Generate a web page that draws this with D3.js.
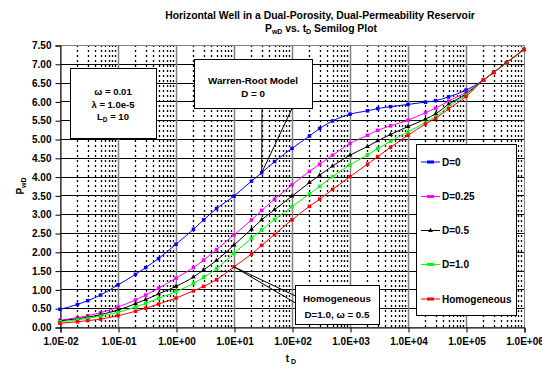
<!DOCTYPE html>
<html>
<head>
<meta charset="utf-8">
<script src="https://cdn.jsdelivr.net/npm/d3@7"></script>
<style>
  body { margin: 0; background: #fff; }
  svg { font-family: "Liberation Sans", Arial, sans-serif; font-weight: bold; }
</style>
</head>
<body>
<div id="chart"></div>
<script>
var svgWidth = 542;
var svgHeight = 369;

var plot = { left: 60, right: 524, top: 45, bottom: 327 };

// dimensionless time points
var tValues = [0.01, 0.02, 0.03, 0.05, 0.1, 0.2, 0.3, 0.5, 1, 2, 3, 5,
    10, 20, 30, 50, 100, 200, 300, 500, 1e3, 2e3, 3e3, 5e3,
    1e4, 2e4, 3e4, 5e4, 1e5, 2e5, 3e5, 5e5, 1e6];

var pD0 = [0.47, 0.60, 0.70, 0.85, 1.12, 1.40, 1.58, 1.82, 2.20, 2.60, 2.85, 3.15,
    3.48, 3.88, 4.10, 4.40, 4.75, 5.08, 5.28, 5.48, 5.66, 5.75, 5.81, 5.86,
    5.92, 5.98, 6.02, 6.12, 6.30, 6.57, 6.77, 7.03, 7.38];
var pD025 = [0.18, 0.25, 0.30, 0.38, 0.53, 0.72, 0.85, 1.03, 1.30, 1.58, 1.78, 2.06,
    2.45, 2.85, 3.10, 3.40, 3.78, 4.14, 4.33, 4.57, 4.88, 5.10, 5.23, 5.35,
    5.50, 5.70, 5.82, 6.01, 6.24, 6.57, 6.77, 7.03, 7.38];
var pD05 = [0.16, 0.22, 0.26, 0.33, 0.45, 0.62, 0.73, 0.88, 1.08, 1.33, 1.52, 1.77,
    2.18, 2.60, 2.85, 3.12, 3.48, 3.84, 4.04, 4.28, 4.57, 4.80, 4.95, 5.12,
    5.33, 5.53, 5.67, 5.92, 6.20, 6.57, 6.77, 7.03, 7.38];
var pD10 = [0.14, 0.19, 0.23, 0.29, 0.39, 0.53, 0.63, 0.76, 0.94, 1.16, 1.32, 1.55,
    1.96, 2.36, 2.58, 2.86, 3.20, 3.54, 3.74, 4.00, 4.31, 4.58, 4.74, 4.94,
    5.19, 5.44, 5.59, 5.86, 6.17, 6.57, 6.77, 7.03, 7.38];
var pHomog = [0.10, 0.14, 0.17, 0.21, 0.30, 0.42, 0.50, 0.61, 0.77, 0.96, 1.08, 1.26,
    1.60, 1.94, 2.17, 2.46, 2.85, 3.21, 3.40, 3.66, 4.00, 4.33, 4.53, 4.78,
    5.10, 5.40, 5.55, 5.80, 6.13, 6.57, 6.77, 7.03, 7.38];

var seriesNames = ["D=0", "D=0.25", "D=0.5", "D=1.0", "Homogeneous"];
var seriesColors = ["#0000ff", "#ff00ff", "#000000", "#00ff00", "#ff0000"];
var seriesValues = [pD0, pD025, pD05, pD10, pHomog];

var xTicks = [1e-2, 1e-1, 1, 10, 100, 1e3, 1e4, 1e5, 1e6];
var yTicks = [0, 0.5, 1, 1.5, 2, 2.5, 3, 3.5, 4, 4.5, 5, 5.5, 6, 6.5, 7, 7.5];

var svg = d3.select("#chart")
    .append("svg")
    .attr("width", svgWidth)
    .attr("height", svgHeight);

var xScale = d3.scaleLog().domain([1e-2, 1e6]).range([plot.left, plot.right]);
var yScale = d3.scaleLinear().domain([0, 7.5]).range([plot.bottom, plot.top]);

// title
svg.append("text")
    .attr("x", 320).attr("y", 19)
    .attr("text-anchor", "middle")
    .attr("font-size", "10.4px")
    .text("Horizontal Well in a Dual-Porosity, Dual-Permeability Reservoir");

var title2 = svg.append("text")
    .attr("x", 321).attr("y", 32)
    .attr("text-anchor", "middle")
    .attr("font-size", "10.4px");
title2.append("tspan").text("P");
title2.append("tspan").attr("font-size", "7px").attr("dy", 2).text("wD");
title2.append("tspan").attr("dy", -2).text(" vs. t");
title2.append("tspan").attr("font-size", "7px").attr("dy", 2).text("D");
title2.append("tspan").attr("dy", -2).text(" Semilog Plot");

// plot area
svg.append("rect")
    .attr("x", plot.left).attr("y", plot.top)
    .attr("width", plot.right - plot.left)
    .attr("height", plot.bottom - plot.top)
    .attr("fill", "#fff");

var grid = svg.append("g");

// minor vertical (dotted)
var minorX = [];
for (var k = -2; k < 6; k++) {
    for (var m = 2; m <= 9; m++) minorX.push(m * Math.pow(10, k));
}
grid.selectAll(".minor")
    .data(minorX)
    .enter()
    .append("line")
    .attr("x1", d => Math.round(xScale(d)) + 0.5)
    .attr("x2", d => Math.round(xScale(d)) + 0.5)
    .attr("y1", plot.top)
    .attr("y2", plot.bottom)
    .attr("stroke", "#000")
    .attr("stroke-width", 1.3)
    .attr("stroke-dasharray", "2,3");

// horizontal grid
grid.selectAll(".hgrid")
    .data(yTicks.slice(1, -1))
    .enter()
    .append("line")
    .attr("x1", plot.left)
    .attr("x2", plot.right)
    .attr("y1", d => Math.round(yScale(d)) + 0.5)
    .attr("y2", d => Math.round(yScale(d)) + 0.5)
    .attr("stroke", "#000")
    .attr("stroke-width", 1);

// major vertical
grid.selectAll(".vgrid")
    .data(xTicks.slice(1, -1))
    .enter()
    .append("line")
    .attr("x1", d => Math.round(xScale(d)) + 0.5)
    .attr("x2", d => Math.round(xScale(d)) + 0.5)
    .attr("y1", plot.top)
    .attr("y2", plot.bottom)
    .attr("stroke", "#808080")
    .attr("stroke-width", 1.5);

svg.append("rect")
    .attr("x", plot.left + 0.5).attr("y", plot.top + 0.5)
    .attr("width", plot.right - plot.left)
    .attr("height", plot.bottom - plot.top)
    .attr("fill", "none")
    .attr("stroke", "#808080")
    .attr("stroke-width", 1);

// axes
var leftAxis = d3.axisLeft(yScale)
    .tickValues(yTicks)
    .tickFormat(d3.format(".2f"))
    .tickSize(5)
    .tickPadding(4);

var bottomAxis = d3.axisBottom(xScale)
    .tickValues(xTicks)
    .tickFormat(function(d) {
        var e = Math.round(Math.log10(d));
        return "1.0E" + (e < 0 ? "-" : "+") + String(Math.abs(e)).padStart(2, "0");
    })
    .tickSize(5)
    .tickPadding(5);

var yaxis = svg.append("g")
    .attr("transform", `translate(${plot.left + 0.5}, 0.5)`)
    .call(leftAxis);

var xaxis = svg.append("g")
    .attr("transform", `translate(0.5, ${plot.bottom + 0.5})`)
    .call(bottomAxis);

[yaxis, xaxis].forEach(function(ax) {
    ax.selectAll("path").attr("stroke", "#000");
    ax.selectAll("line").attr("stroke", "#000");
    ax.selectAll("text")
        .attr("font-family", "Liberation Sans, Arial, sans-serif")
        .attr("font-weight", "bold")
        .attr("font-size", "10px")
        .attr("fill", "#000");
});

// axis titles
var yTitle = svg.append("text")
    .attr("transform", "translate(24, 186) rotate(-90)")
    .attr("text-anchor", "middle")
    .attr("font-size", "10px");
yTitle.append("tspan").text("P");
yTitle.append("tspan").attr("font-size", "7px").attr("dy", 2).text("wD");

var xTitle = svg.append("text")
    .attr("x", 291).attr("y", 362)
    .attr("text-anchor", "middle")
    .attr("font-size", "10px");
xTitle.append("tspan").text("t");
xTitle.append("tspan").attr("font-size", "7px").attr("dy", 2).text(" D");

// curves
var line = d3.line()
    .x(d => xScale(d.t))
    .y(d => yScale(d.p))
    .curve(d3.curveMonotoneX);

var curves = svg.append("g");

seriesValues.forEach(function(vals, i) {
    var pts = tValues.map((t, j) => ({ t: t, p: vals[j] }));
    curves.append("path")
        .datum(pts)
        .attr("fill", "none")
        .attr("stroke", seriesColors[i])
        .attr("stroke-width", 1)
        .attr("d", line);
});

// markers drawn after all lines so the overlap looks right
seriesValues.forEach(function(vals, i) {
    var pts = tValues.map((t, j) => ({ t: t, p: vals[j] }));
    var g = curves.append("g").attr("fill", seriesColors[i]);
    if (i === 2) {
        g.selectAll("path")
            .data(pts)
            .enter()
            .append("path")
            .attr("d", d3.symbol().type(d3.symbolTriangle).size(10))
            .attr("transform", d => `translate(${xScale(d.t)}, ${yScale(d.p)})`);
    } else {
        g.selectAll("rect")
            .data(pts)
            .enter()
            .append("rect")
            .attr("x", d => xScale(d.t) - 1.75)
            .attr("y", d => yScale(d.p) - 1.75)
            .attr("width", 3.5)
            .attr("height", 3.5);
    }
});

// parameter box
svg.append("rect")
    .attr("x", 70.5).attr("y", 68.5)
    .attr("width", 86).attr("height", 70)
    .attr("fill", "#fff")
    .attr("stroke", "#000");

var paramLines = ["\u03c9 = 0.01", "\u03bb = 1.0e-5"];
paramLines.forEach(function(s, i) {
    svg.append("text")
        .attr("x", 113).attr("y", 95 + i * 12.5)
        .attr("text-anchor", "middle")
        .attr("font-size", "9.5px")
        .text(s);
});
var ld = svg.append("text")
    .attr("x", 113).attr("y", 120)
    .attr("text-anchor", "middle")
    .attr("font-size", "9.5px");
ld.append("tspan").text("L");
ld.append("tspan").attr("font-size", "6.5px").attr("dy", 2).text("D");
ld.append("tspan").attr("dy", -2).text(" = 10");

// Warren-Root callout
var tipWR = [xScale(30), yScale(4.1)];
svg.append("path")
    .attr("d", `M262,108.5 L${tipWR[0]},${tipWR[1]} L292,108.5`)
    .attr("fill", "none")
    .attr("stroke", "#000")
    .attr("stroke-width", 1);
svg.append("rect")
    .attr("x", 194.5).attr("y", 59.5)
    .attr("width", 118).attr("height", 49)
    .attr("fill", "#fff")
    .attr("stroke", "#000");
svg.append("text")
    .attr("x", 253).attr("y", 84)
    .attr("text-anchor", "middle")
    .attr("font-size", "9.8px")
    .text("Warren-Root Model");
svg.append("text")
    .attr("x", 253).attr("y", 96.5)
    .attr("text-anchor", "middle")
    .attr("font-size", "9.8px")
    .text("D = 0");

// Homogeneous callout
var tipH = [xScale(10), yScale(1.6)];
svg.append("path")
    .attr("d", `M295.5,296 L${tipH[0]},${tipH[1]} L295.5,303`)
    .attr("fill", "none")
    .attr("stroke", "#000")
    .attr("stroke-width", 1);
svg.append("rect")
    .attr("x", 295.5).attr("y", 285.5)
    .attr("width", 84).attr("height", 39)
    .attr("fill", "#fff")
    .attr("stroke", "#000");
svg.append("text")
    .attr("x", 337).attr("y", 302)
    .attr("text-anchor", "middle")
    .attr("font-size", "9.8px")
    .text("Homogeneous");
svg.append("text")
    .attr("x", 337).attr("y", 317.5)
    .attr("text-anchor", "middle")
    .attr("font-size", "9.8px")
    .text("D=1.0, \u03c9 = 0.5");

// legend
var legend = svg.append("g");
legend.append("rect")
    .attr("x", 416.5).attr("y", 144.5)
    .attr("width", 100).attr("height", 171)
    .attr("fill", "#fff")
    .attr("stroke", "#000");

var legendRows = [162, 196.5, 230.5, 264.5, 299];
seriesNames.forEach(function(name, i) {
    var y = legendRows[i];
    legend.append("line")
        .attr("x1", 421).attr("x2", 440)
        .attr("y1", y).attr("y2", y)
        .attr("stroke", seriesColors[i])
        .attr("stroke-width", 1);
    if (i === 2) {
        legend.append("path")
            .attr("d", d3.symbol().type(d3.symbolTriangle).size(10))
            .attr("transform", `translate(430.5, ${y})`)
            .attr("fill", seriesColors[i]);
    } else {
        legend.append("rect")
            .attr("x", 427).attr("y", y - 1.5)
            .attr("width", 7).attr("height", 3)
            .attr("fill", seriesColors[i]);
    }
    legend.append("text")
        .attr("x", 442).attr("y", y + 3.5)
        .attr("font-size", "10px")
        .text(name);
});
</script>
</body>
</html>
